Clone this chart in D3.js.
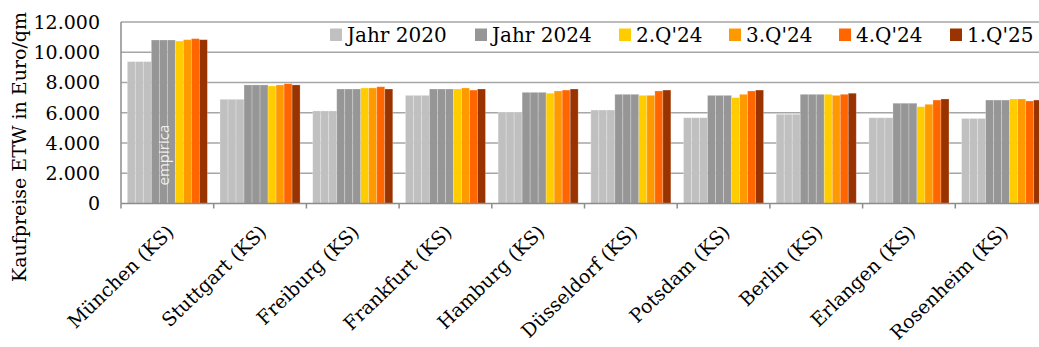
<!DOCTYPE html>
<html>
<head>
<meta charset="utf-8">
<script src="https://cdn.jsdelivr.net/npm/d3@7"></script>
<style>
  body { margin: 0; background: #fff; }
  svg { display: block; }
</style>
</head>
<body>
<div id="chart"></div>
<script>
// data (Euro/qm)
const cities = ["München (KS)", "Stuttgart (KS)", "Freiburg (KS)", "Frankfurt (KS)", "Hamburg (KS)",
  "Düsseldorf (KS)", "Potsdam (KS)", "Berlin (KS)", "Erlangen (KS)", "Rosenheim (KS)"];
const seriesNames = ["Jahr 2020", "Jahr 2024", "2.Q'24", "3.Q'24", "4.Q'24", "1.Q'25"];
const jahr2020 = [9380, 6890, 6120, 7150, 6050, 6180, 5670, 5900, 5670, 5620];
const jahr2024 = [10810, 7840, 7570, 7570, 7350, 7220, 7150, 7220, 6630, 6840];
const q2_24 = [10740, 7770, 7640, 7570, 7290, 7150, 7000, 7220, 6400, 6910];
const q3_24 = [10830, 7840, 7640, 7640, 7440, 7150, 7220, 7150, 6560, 6910];
const q4_24 = [10900, 7920, 7720, 7500, 7500, 7440, 7440, 7220, 6840, 6780];
const q1_25 = [10830, 7840, 7570, 7570, 7570, 7500, 7500, 7290, 6910, 6840];
const yTicks = [0, 2000, 4000, 6000, 8000, 10000, 12000];

const colors = ["#c0c0c0", "#969696", "#ffcc00", "#ff9900", "#ff6600", "#993300"];
const slots = [3, 3, 1, 1, 1, 1]; // annual bars are three slots wide
const values = [jahr2020, jahr2024, q2_24, q3_24, q4_24, q1_25];

const W = 1039, H = 347;
const plotLeft = 121, plotBottom = 203.5, plotTop = 22;
const step = 92.7;

const svg = d3.select("#chart").append("svg")
  .attr("width", W)
  .attr("height", H);

const x = d3.scaleBand()
  .domain(cities)
  .range([plotLeft, plotLeft + step * cities.length]);

// ten slots inside each category
const slot = d3.scaleBand()
  .domain(d3.range(10))
  .range([0, x.bandwidth()])
  .paddingOuter(0.79);

const y = d3.scaleLinear()
  .domain([0, 12000])
  .range([plotBottom, plotTop]);

const fmt = d3.format(",.0f");
const deFmt = d => fmt(d).replace(/,/g, ".");

// gridlines
svg.append("g")
  .selectAll("line")
  .data(yTicks.slice(1))
  .join("line")
  .attr("x1", plotLeft)
  .attr("x2", W)
  .attr("y1", d => y(d))
  .attr("y2", d => y(d))
  .attr("stroke", "#a6a6a6")
  .attr("stroke-width", 1.5);

// y labels
svg.append("g")
  .selectAll("text")
  .data(yTicks)
  .join("text")
  .attr("x", 100)
  .attr("y", d => y(d))
  .attr("dy", "0.36em")
  .attr("text-anchor", "end")
  .style("font-family", "DejaVu Serif")
  .style("font-size", "19px")
  .attr("fill", "#000")
  .text(deFmt);

// bars
const bars = [];
cities.forEach((c, i) => {
  let s = 0;
  values.forEach((vals, k) => {
    for (let j = 0; j < slots[k]; j++) {
      bars.push({ city: c, slotIdx: s + j, value: vals[i], color: colors[k] });
    }
    s += slots[k];
  });
});

svg.append("g")
  .selectAll("rect")
  .data(bars)
  .join("rect")
  .attr("x", d => x(d.city) + slot(d.slotIdx))
  .attr("width", slot.bandwidth())
  .attr("y", d => y(d.value))
  .attr("height", d => y(0) - y(d.value))
  .attr("fill", d => d.color)
  .attr("stroke", "rgba(255,255,255,0.3)")
  .attr("stroke-width", 0.8);

// watermark
const wx = x(cities[0]) + slot(4) + slot.bandwidth() / 2;
svg.append("text")
  .attr("transform", `translate(${wx},${y(3200)}) rotate(-90)`)
  .attr("text-anchor", "middle")
  .attr("dy", "0.35em")
  .style("font-family", "Open Sans")
  .style("font-size", "15px")
  .attr("fill", "rgba(255,255,255,0.85)")
  .text("empirica");

// axes lines
svg.append("line")
  .attr("x1", plotLeft).attr("x2", plotLeft)
  .attr("y1", y(12000)).attr("y2", plotBottom)
  .attr("stroke", "#8c8c8c").attr("stroke-width", 1.5);
svg.append("line")
  .attr("x1", plotLeft).attr("x2", W)
  .attr("y1", plotBottom).attr("y2", plotBottom)
  .attr("stroke", "#8c8c8c").attr("stroke-width", 1.5);

// category boundary ticks
svg.append("g")
  .selectAll("line")
  .data(cities)
  .join("line")
  .attr("x1", d => x(d))
  .attr("x2", d => x(d))
  .attr("y1", plotBottom)
  .attr("y2", plotBottom + 5)
  .attr("stroke", "#8c8c8c")
  .attr("stroke-width", 1.5);

// x labels
svg.append("g")
  .selectAll("text")
  .data(cities)
  .join("text")
  .attr("transform", d => `translate(${x(d) + x.bandwidth() / 2 + 3},${plotBottom + 25}) rotate(-44)`)
  .attr("text-anchor", "end")
  .attr("dy", "0.35em")
  .style("font-family", "DejaVu Serif")
  .style("font-size", "19px")
  .attr("fill", "#000")
  .text(d => d);

// y title
svg.append("text")
  .attr("transform", `translate(19,147) rotate(-90)`)
  .attr("text-anchor", "middle")
  .attr("dy", "0.35em")
  .style("font-family", "DejaVu Serif")
  .style("font-size", "19px")
  .attr("fill", "#000")
  .text("Kaufpreise ETW in Euro/qm");

// legend
const legendX = [330, 475, 619, 729, 839, 950];
const legend = svg.append("g");
legend.append("rect")
  .attr("x", 318).attr("y", y(12000) + 1.5)
  .attr("width", W - 318).attr("height", y(10000) - y(12000) - 3)
  .attr("fill", "#fff");
const items = legend.selectAll("g.item")
  .data(seriesNames)
  .join("g")
  .attr("class", "item")
  .attr("transform", (d, i) => `translate(${legendX[i]},0)`);
items.append("rect")
  .attr("x", 0).attr("y", 28.5)
  .attr("width", 12).attr("height", 12.5)
  .attr("fill", (d, i) => colors[i]);
items.append("text")
  .attr("x", 17).attr("y", 35)
  .attr("dy", "0.36em")
  .style("font-family", "DejaVu Serif")
  .style("font-size", "20px")
  .attr("fill", "#000")
  .text(d => d);
</script>
</body>
</html>
